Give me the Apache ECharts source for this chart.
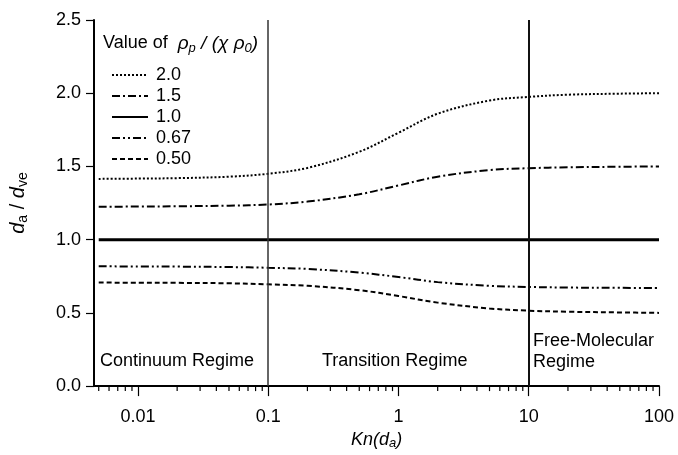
<!DOCTYPE html>
<html><head><meta charset="utf-8">
<script src="https://cdn.jsdelivr.net/npm/echarts@6/dist/echarts.min.js"></script>
<style>html,body{margin:0;padding:0;background:#fff}#c{width:678px;height:455px}</style>
</head><body><div id="c"></div>
<script>
// ---- data ----
var knValues = [0.005, 0.01, 0.02, 0.05, 0.1, 0.2, 0.5, 1, 2, 5, 10, 20, 50, 100];
var ratio20  = [1.415, 1.417, 1.42, 1.43, 1.45, 1.49, 1.60, 1.73, 1.86, 1.95, 1.975, 1.99, 1.997, 2.0];
var ratio15  = [1.225, 1.226, 1.228, 1.232, 1.24, 1.26, 1.31, 1.37, 1.43, 1.475, 1.488, 1.494, 1.498, 1.5];
var ratio10  = [1.0, 1.0, 1.0, 1.0, 1.0, 1.0, 1.0, 1.0, 1.0, 1.0, 1.0, 1.0, 1.0, 1.0];
var ratio067 = [0.818, 0.817, 0.816, 0.813, 0.808, 0.80, 0.775, 0.745, 0.71, 0.685, 0.677, 0.673, 0.671, 0.67];
var ratio050 = [0.707, 0.706, 0.705, 0.702, 0.695, 0.685, 0.655, 0.615, 0.57, 0.53, 0.515, 0.508, 0.503, 0.5];
var seriesNames = ['2.0', '1.5', '1.0', '0.67', '0.50'];
var xTickLabels = {'0.01': '0.01', '0.1': '0.1', '1': '1', '10': '10', '100': '100'};
var regimeBounds = [0.1, 10];
var xMin = 0.0046, xMax = 100;

function pairs(v) { return knValues.map(function (x, i) { return [x, v[i]]; }); }
var minorTicks = [];
[0.001, 0.01, 0.1, 1, 10].forEach(function (d) {
  for (var k = 2; k <= 9; k++) { var t = k * d; if (t > xMin && t < xMax) minorTicks.push([t, 0]); }
});

var FONT = 'Liberation Sans';
var FS = 18;
var chart = echarts.init(document.getElementById('c'), null, {renderer: 'canvas'});
function line(name, data, type, width) {
  return {
    name: name, type: 'line', data: pairs(data), showSymbol: false, symbol: 'none',
    smooth: 0.35, lineStyle: {color: '#000', width: width, type: type}, itemStyle: {color: '#000'},
    z: 3, silent: true
  };
}
var series = [
  line(seriesNames[0], ratio20, [2, 2], 2),
  line(seriesNames[1], ratio15, [8, 3, 2, 3], 2),
  line(seriesNames[2], ratio10, 'solid', 3),
  line(seriesNames[3], ratio067, [8, 3, 2, 3, 2, 3], 2),
  line(seriesNames[4], ratio050, [5, 3], 2)
];
series[2].markLine = {
  silent: true, symbol: 'none', label: {show: false},
  data: [
    {xAxis: regimeBounds[0], lineStyle: {color: '#333', width: 1.5, type: 'solid'}},
    {xAxis: regimeBounds[1], lineStyle: {color: '#111', width: 2, type: 'solid'}}
  ]
};
series.push({
  type: 'custom', data: minorTicks, clip: false, silent: true, z: 5,
  renderItem: function (params, api) {
    var p = api.coord([api.value(0), 0]);
    return {type: 'line', shape: {x1: p[0], y1: p[1], x2: p[0], y2: p[1] + 5},
      style: {stroke: '#000', lineWidth: 1.2}};
  }
});

chart.setOption({
  animation: false,
  backgroundColor: '#fff',
  textStyle: {fontFamily: FONT},
  grid: {left: 90, right: 19, top: 20, bottom: 63},
  legend: {
    data: seriesNames, orient: 'vertical', left: 106, top: 61,
    itemWidth: 36, itemHeight: 14, itemGap: 3,
    itemStyle: {opacity: 0, borderWidth: 0},
    textStyle: {fontFamily: FONT, fontSize: FS, color: '#000', lineHeight: 18, padding: [0, 0, 0, 3]}
  },
  xAxis: {
    type: 'log', min: xMin, max: xMax, logBase: 10,
    name: '{i|Kn(d}{s|a}{i|)}', nameLocation: 'middle', nameGap: 42,
    nameTextStyle: {rich: {
      i: {fontFamily: FONT, fontSize: FS, fontStyle: 'italic', color: '#000', lineHeight: 20},
      s: {fontFamily: FONT, fontSize: 13, fontStyle: 'italic', color: '#000', lineHeight: 12, verticalAlign: 'bottom'}
    }},
    axisLine: {lineStyle: {color: '#000', width: 2}},
    axisTick: {inside: false, length: 10, lineStyle: {color: '#000', width: 1.2}},
    axisLabel: {
      fontFamily: FONT, fontSize: FS, color: '#000', margin: 22, showMinLabel: false,
      formatter: function (v) { var k = String(+v.toPrecision(6)); return xTickLabels[k] || ''; }
    },
    splitLine: {show: false}
  },
  yAxis: {
    type: 'value', min: 0, max: 2.5, interval: 0.5,
    name: '{i|d}{s|a}{n| / }{i|d}{s|ve}', nameLocation: 'middle', nameGap: 64, nameRotate: 90,
    nameTextStyle: {rich: {
      i: {fontFamily: FONT, fontSize: 20, fontStyle: 'italic', color: '#000', lineHeight: 24},
      n: {fontFamily: FONT, fontSize: 20, color: '#000', lineHeight: 24},
      s: {fontFamily: FONT, fontSize: 14, color: '#000', lineHeight: 14, verticalAlign: 'bottom'}
    }},
    axisLine: {show: true, lineStyle: {color: '#000', width: 2}},
    axisTick: {show: true, inside: false, length: 8, lineStyle: {color: '#000', width: 1.2}},
    axisLabel: {fontFamily: FONT, fontSize: FS, color: '#000', margin: 13,
      formatter: function (v) { return v.toFixed(1); }},
    splitLine: {show: false}
  },
  graphic: [
    {type: 'text', left: 103, top: 34, style: {
      text: '{n|Value of  }{i|ρ}{s|p}{i| / (χ ρ}{s|0}{i|)}',
      rich: {
        n: {fontFamily: FONT, fontSize: FS, fill: '#000', lineHeight: 22},
        i: {fontFamily: FONT, fontSize: 19, fontStyle: 'italic', fill: '#000', lineHeight: 22},
        s: {fontFamily: FONT, fontSize: 13, fontStyle: 'italic', fill: '#000', lineHeight: 13, verticalAlign: 'bottom'}
      }}},
    {type: 'text', left: 100, top: 352, style: {text: 'Continuum Regime', fontFamily: FONT, fontSize: FS, fill: '#000'}},
    {type: 'text', left: 322, top: 352, style: {text: 'Transition Regime', fontFamily: FONT, fontSize: FS, fill: '#000'}},
    {type: 'text', left: 533, top: 331, style: {text: 'Free-Molecular\nRegime', fontFamily: FONT, fontSize: FS, lineHeight: 21, fill: '#000'}}
  ],
  series: series
});
</script></body></html>
